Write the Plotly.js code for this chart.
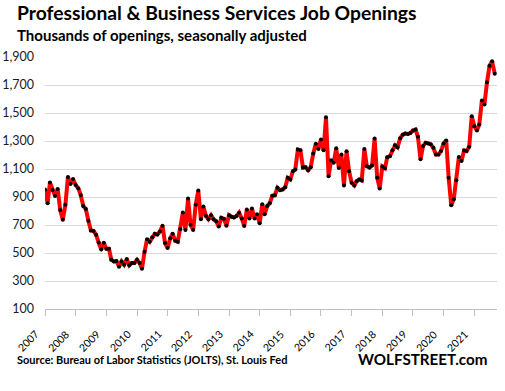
<!DOCTYPE html>
<html><head><meta charset="utf-8">
<script src="https://cdn.plot.ly/plotly-3.0.1.min.js"></script>
<style>html,body{margin:0;padding:0;background:#fff}#chart{width:505px;height:391px}</style>
</head><body><div id="chart"></div>
<script>
// Professional & Business Services job openings, thousands, SA, Jan 2007 - Sep 2021
const openings = [
  953, 855, 1003, 950, 908, 958, 808, 737, 844, 1043, 993, 1029,
  986, 962, 915, 836, 815, 730, 661, 658, 630, 575, 525, 573,
  530, 530, 452, 440, 442, 402, 440, 416, 457, 412, 428, 428,
  452, 428, 388, 509, 599, 580, 613, 637, 632, 654, 694, 571,
  535, 606, 637, 587, 580, 670, 789, 665, 889, 701, 665, 844,
  946, 741, 832, 765, 741, 770, 741, 727, 689, 751, 744, 694,
  770, 759, 754, 764, 788, 747, 693, 811, 747, 818, 747, 776,
  712, 849, 776, 835, 856, 909, 913, 966, 949, 954, 970, 1037,
  1025, 1084, 1096, 1239, 1234, 1110, 1113, 1091, 1113, 1210, 1281, 1243,
  1310, 1234, 1469, 1049, 1163, 1144, 1248, 1108, 1203, 982, 1227, 1084,
  1001, 982, 1013, 1025, 1018, 1243, 1120, 1110, 1125, 1317, 1037, 961,
  1118, 1106, 1184, 1191, 1234, 1269, 1255, 1319, 1345, 1353, 1350, 1357,
  1375, 1382, 1330, 1169, 1264, 1287, 1283, 1276, 1252, 1204, 1204, 1228,
  1283, 1304, 1038, 841, 884, 1019, 1185, 1157, 1233, 1228, 1259, 1477,
  1406, 1375, 1418, 1589, 1560, 1719, 1838, 1869, 1781
];
const startYear = 2007;
const years = [2007, 2008, 2009, 2010, 2011, 2012, 2013, 2014, 2015, 2016, 2017, 2018, 2019, 2020, 2021];
const yTicks = [100, 300, 500, 700, 900, 1100, 1300, 1500, 1700, 1900];
const yTickText = ['100', '300', '500', '700', '900', '1,100', '1,300', '1,500', '1,700', '1,900'];

const months = openings.map((_, i) => {
  const y = startYear + Math.floor(i / 12);
  const m = (i % 12) + 1;
  return y + '-' + String(m).padStart(2, '0') + '-01';
});

const FONT = 'Lato, "Liberation Sans", sans-serif';

const trace = {
  x: months, y: openings, type: 'scatter', mode: 'lines+markers',
  line: {color: '#ff0000', width: 4},
  marker: {color: '#000000', size: 4},
  hoverinfo: 'skip'
};

// rotated year labels under the axis
const yearLabels = years.map(y => ({
  text: String(y), xref: 'x', yref: 'paper',
  x: y + '-01-01', y: -0.07,
  xanchor: 'right', yanchor: 'top', textangle: -45,
  xshift: -3, showarrow: false, borderpad: 0,
  font: {family: FONT, size: 10.5, color: '#000'}
}));

const layout = {
  width: 505, height: 391,
  margin: {l: 45, r: 8, t: 57, b: 82, pad: 0},
  paper_bgcolor: '#ffffff', plot_bgcolor: '#ffffff',
  showlegend: false,
  font: {family: FONT, color: '#000'},
  xaxis: {
    type: 'date',
    range: ['2007-01-01', '2021-09-28'],
    tickmode: 'array',
    tickvals: years.map(y => y + '-01-01'),
    showticklabels: false,
    ticks: 'outside', ticklen: 6, tickcolor: '#bfbfbf', tickwidth: 1,
    showline: true, linecolor: '#bfbfbf', linewidth: 1,
    showgrid: false, zeroline: false
  },
  yaxis: {
    range: [100, 1900],
    tickvals: yTicks, ticktext: yTickText,
    showgrid: true, gridcolor: '#d9d9d9', gridwidth: 1,
    zeroline: false, showline: false, ticks: '',
    tickfont: {family: FONT, size: 12.5, color: '#1a1a1a'},
    ticklabelstandoff: 10
  },
  annotations: yearLabels.concat([
    {text: '<b>Professional & Business Services Job Openings</b>', xref: 'paper', yref: 'paper',
     x: -0.066, y: 1.175, xanchor: 'left', yanchor: 'middle', showarrow: false,
     font: {family: FONT, size: 19.3, color: '#000'}},
    {text: '<b>Thousands of openings, seasonally adjusted</b>', xref: 'paper', yref: 'paper',
     x: -0.066, y: 1.087, xanchor: 'left', yanchor: 'middle', showarrow: false,
     font: {family: FONT, size: 15, color: '#000'}},
    {text: '<b>Source: Bureau of Labor Statistics (JOLTS), St. Louis Fed</b>', xref: 'paper', yref: 'paper',
     x: -0.066, y: -0.2, xanchor: 'left', yanchor: 'middle', showarrow: false,
     font: {family: FONT, size: 11, color: '#000'}},
    {text: '<b>WOLFSTREET.com</b>', xref: 'paper', yref: 'paper',
     x: 0.983, y: -0.198, xanchor: 'right', yanchor: 'middle', showarrow: false,
     font: {family: FONT, size: 15.2, color: '#000'}}
  ])
};

Plotly.newPlot('chart', [trace], layout, {displayModeBar: false, staticPlot: true});
</script>
</body></html>
